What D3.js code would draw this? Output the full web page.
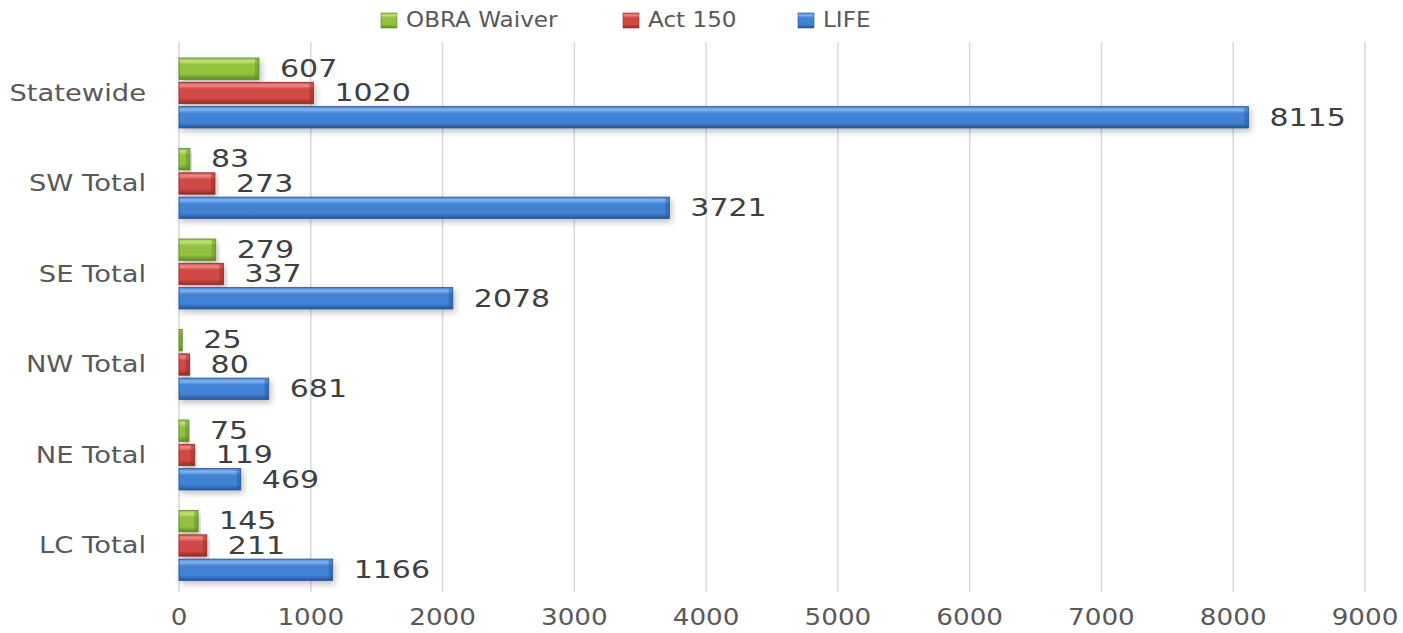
<!DOCTYPE html>
<html><head><meta charset="utf-8">
<script src="https://cdn.jsdelivr.net/npm/d3@7"></script>
<style>body{margin:0;background:#fff}svg{display:block}text{font-family:"DejaVu Sans",Verdana,sans-serif}</style>
</head><body><svg id="c" width="1403" height="633"></svg>
<script>
const categories = ["Statewide","SW Total","SE Total","NW Total","NE Total","LC Total"];
const seriesNames = ["OBRA Waiver","Act 150","LIFE"];
const obraWaiver = [607,83,279,25,75,145];
const act150 = [1020,273,337,80,119,211];
const life = [8115,3721,2078,681,469,1166];
const xTicks = [0,1000,2000,3000,4000,5000,6000,7000,8000,9000];
const colors = {"OBRA Waiver":["#c4e27c","#92c240","#5e8a24"],"Act 150":["#f08c88","#d04844","#962a27"],"LIFE":["#84b6f0","#4282d4","#24569a"]};

const series = [obraWaiver, act150, life];
const svg = d3.select("#c");
const defs = svg.append("defs");
seriesNames.forEach((s,i)=>{
  const g = defs.append("linearGradient").attr("id","g"+i).attr("x1",0).attr("y1",0).attr("x2",0).attr("y2",1);
  const c = colors[s];
  g.append("stop").attr("offset","0%").attr("stop-color",c[1]);
  g.append("stop").attr("offset","14%").attr("stop-color",c[0]);
  g.append("stop").attr("offset","32%").attr("stop-color",c[1]);
  g.append("stop").attr("offset","75%").attr("stop-color",c[1]);
  g.append("stop").attr("offset","100%").attr("stop-color",c[2]);
});
const f = defs.append("filter").attr("id","sh").attr("x","-5%").attr("y","-50%").attr("width","115%").attr("height","250%");
f.append("feDropShadow").attr("dx",2).attr("dy",3).attr("stdDeviation",3).attr("flood-color","#000").attr("flood-opacity",0.25);

const x = d3.scaleLinear().domain([0,9000]).range([179,1365]);
const y = d3.scaleBand().domain(categories).range([48,591]);
const inner = d3.scaleBand().domain(seriesNames).range([10,80]).paddingInner(0.12);

// gridlines
svg.append("g").selectAll("line").data(xTicks).join("line")
  .attr("x1",d=>x(d)).attr("x2",d=>x(d)).attr("y1",42).attr("y2",592)
  .attr("stroke","#d9d9d9").attr("stroke-width",1.5);

// x axis labels
svg.append("g").selectAll("text").data(xTicks).join("text")
  .attr("transform",d=>`translate(${x(d)},618) scale(1.14,1)`)
  .attr("text-anchor","middle").attr("dominant-baseline","middle")
  .attr("font-size",23).attr("fill","#595959").text(d3.format("d"));

// category labels
svg.append("g").selectAll("text").data(categories).join("text")
  .attr("transform",d=>`translate(146,${y(d)+y.bandwidth()/2+1}) scale(1.19,1)`)
  .attr("text-anchor","end").attr("dominant-baseline","middle")
  .attr("font-size",23).attr("fill","#595959").text(d=>d);

// bars
seriesNames.forEach((s,i)=>{
  const g = svg.append("g");
  const data = categories.map((c,j)=>({c, v: series[i][j]}));
  g.selectAll("rect.bar").data(data).join("rect").attr("class","bar")
    .attr("x",x(0)).attr("y",d=>y(d.c)+inner(s))
    .attr("width",d=>x(d.v)-x(0)).attr("height",inner.bandwidth())
    .attr("fill","url(#g"+i+")").attr("stroke",colors[s][2]).attr("stroke-width",0.8)
    .attr("filter","url(#sh)");
  // darker bevel at right end
  g.selectAll("rect.end").data(data).join("rect").attr("class","end")
    .attr("x",d=>Math.max(x(0), x(d.v)-4)).attr("y",d=>y(d.c)+inner(s)+1)
    .attr("width",d=>Math.min(4, x(d.v)-x(0))).attr("height",inner.bandwidth()-2)
    .attr("fill",colors[s][2]).attr("opacity",0.45);
  g.selectAll("text").data(data).join("text")
    .attr("transform",d=>`translate(${x(d.v)+21},${y(d.c)+inner(s)+inner.bandwidth()/2+1}) scale(1.2,1)`)
    .attr("dominant-baseline","middle")
    .attr("font-size",25).attr("fill","#404040").text(d=>d.v);
});

// legend
const lx = [381,623,798];
const lg = svg.append("g");
seriesNames.forEach((s,i)=>{
  lg.append("rect").attr("x",lx[i]).attr("y",13).attr("width",16).attr("height",15)
    .attr("fill","url(#g"+i+")").attr("stroke",colors[s][2]).attr("stroke-width",0.6);
  lg.append("text").attr("transform",`translate(${lx[i]+25},21) scale(1.05,1)`).attr("dominant-baseline","middle")
    .attr("font-size",22).attr("fill","#595959").text(s);
});
</script></body></html>
